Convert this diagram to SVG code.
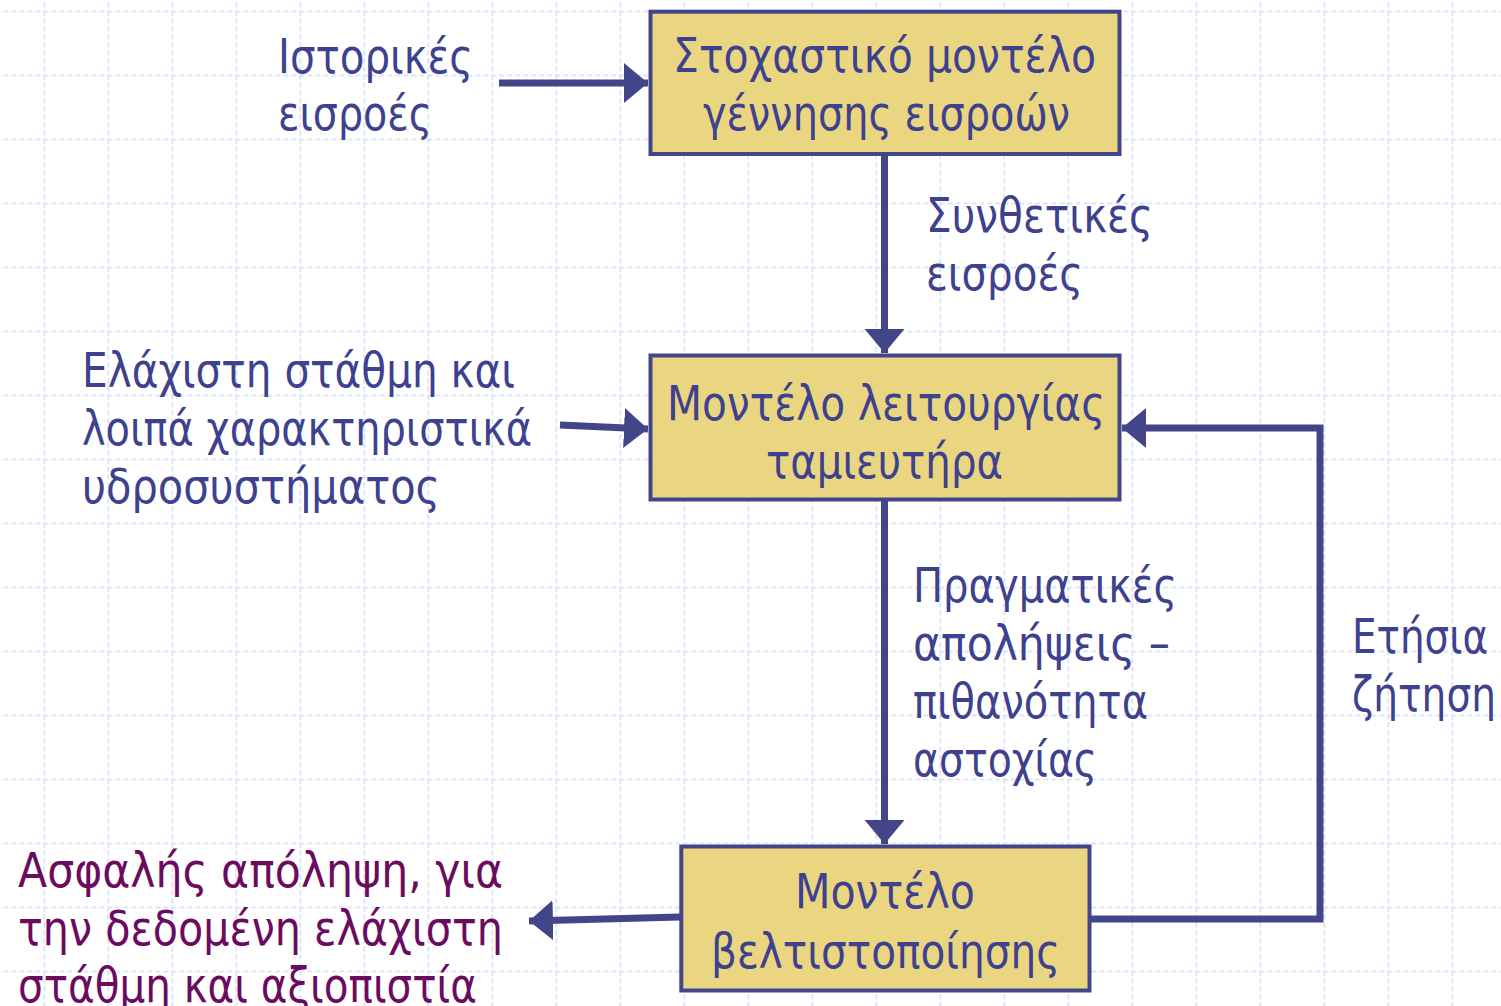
<svg xmlns="http://www.w3.org/2000/svg" width="1501" height="1006" viewBox="0 0 1501 1006">
<style>
.t{font-family:"DejaVu Sans","Liberation Sans",sans-serif;font-size:48px;fill:#3d418e}
.p{fill:#6a0b5f}
.box{fill:#ead581;stroke:#424689;stroke-width:4}
.ln{fill:none;stroke:#424689;stroke-width:7}
</style>
<defs>
<pattern id="grid" patternUnits="userSpaceOnUse" x="43.3" y="10.5" width="64" height="64">
<path d="M0 1H64M1 0V64" fill="none" stroke="#d3ddf8" stroke-width="1.6" stroke-dasharray="5 3"/>
</pattern>
<marker id="ah" markerUnits="userSpaceOnUse" markerWidth="24" markerHeight="40" refX="24" refY="20" orient="auto" viewBox="0 0 24 40">
<path d="M0 0L24 20L0 40z" fill="#424689"/>
</marker>
</defs>
<rect width="1501" height="1006" fill="#ffffff"/>
<rect width="1501" height="1006" fill="url(#grid)"/>

<g id="connectors">
<line class="ln" x1="499" y1="83" x2="648" y2="83" marker-end="url(#ah)"/>
<line class="ln" x1="884.5" y1="156" x2="884.5" y2="353" marker-end="url(#ah)"/>
<line class="ln" x1="560" y1="425" x2="648" y2="429" marker-end="url(#ah)"/>
<line class="ln" x1="680" y1="917" x2="529" y2="921" marker-end="url(#ah)"/>
<line class="ln" x1="884.5" y1="501" x2="884.5" y2="844" marker-end="url(#ah)"/>
<path class="ln" d="M1091 919H1320V428H1122" stroke-linejoin="miter" marker-end="url(#ah)"/>
</g>

<g id="node-stochastic">
<rect class="box" x="650.5" y="11.7" width="469" height="142.3"/>
<text class="t" x="673" y="72" textLength="423" lengthAdjust="spacingAndGlyphs">Στοχαστικό μοντέλο</text>
<text class="t" x="703" y="130" textLength="367" lengthAdjust="spacingAndGlyphs">γέννησης εισροών</text>
</g>

<g id="node-reservoir">
<rect class="box" x="650.5" y="355.5" width="469" height="144"/>
<text class="t" x="667" y="420" textLength="438" lengthAdjust="spacingAndGlyphs">Μοντέλο λειτουργίας</text>
<text class="t" x="766" y="478" textLength="237" lengthAdjust="spacingAndGlyphs">ταμιευτήρα</text>
</g>

<g id="node-optimization">
<rect class="box" x="681.3" y="846.5" width="408.2" height="144"/>
<text class="t" x="795" y="908" textLength="180" lengthAdjust="spacingAndGlyphs">Μοντέλο</text>
<text class="t" x="711" y="968" textLength="349" lengthAdjust="spacingAndGlyphs">βελτιστοποίησης</text>
</g>

<g id="label-historical">
<text class="t" x="278" y="73" textLength="195" lengthAdjust="spacingAndGlyphs">Ιστορικές</text>
<text class="t" x="278" y="130" textLength="154" lengthAdjust="spacingAndGlyphs">εισροές</text>
</g>

<g id="label-synthetic">
<text class="t" x="926" y="232" textLength="227" lengthAdjust="spacingAndGlyphs">Συνθετικές</text>
<text class="t" x="926" y="290" textLength="157" lengthAdjust="spacingAndGlyphs">εισροές</text>
</g>

<g id="label-minlevel">
<text class="t" x="82" y="387" textLength="433" lengthAdjust="spacingAndGlyphs">Ελάχιστη στάθμη και</text>
<text class="t" x="82" y="445" textLength="450" lengthAdjust="spacingAndGlyphs">λοιπά χαρακτηριστικά</text>
<text class="t" x="82" y="503" textLength="358" lengthAdjust="spacingAndGlyphs">υδροσυστήματος</text>
</g>

<g id="label-actual">
<text class="t" x="913" y="602" textLength="264" lengthAdjust="spacingAndGlyphs">Πραγματικές</text>
<text class="t" x="913" y="660" textLength="257" lengthAdjust="spacingAndGlyphs">απολήψεις –</text>
<text class="t" x="913" y="718" textLength="235" lengthAdjust="spacingAndGlyphs">πιθανότητα</text>
<text class="t" x="913" y="776" textLength="184" lengthAdjust="spacingAndGlyphs">αστοχίας</text>
</g>

<g id="label-demand">
<text class="t" x="1352" y="653" textLength="136" lengthAdjust="spacingAndGlyphs">Ετήσια</text>
<text class="t" x="1352" y="711" textLength="144" lengthAdjust="spacingAndGlyphs">ζήτηση</text>
</g>

<g id="label-safe">
<text class="t p" x="18" y="887" textLength="485" lengthAdjust="spacingAndGlyphs">Ασφαλής απόληψη, για</text>
<text class="t p" x="18" y="945" textLength="485" lengthAdjust="spacingAndGlyphs">την δεδομένη ελάχιστη</text>
<text class="t p" x="18" y="1002" textLength="459" lengthAdjust="spacingAndGlyphs">στάθμη και αξιοπιστία</text>
</g>
</svg>
